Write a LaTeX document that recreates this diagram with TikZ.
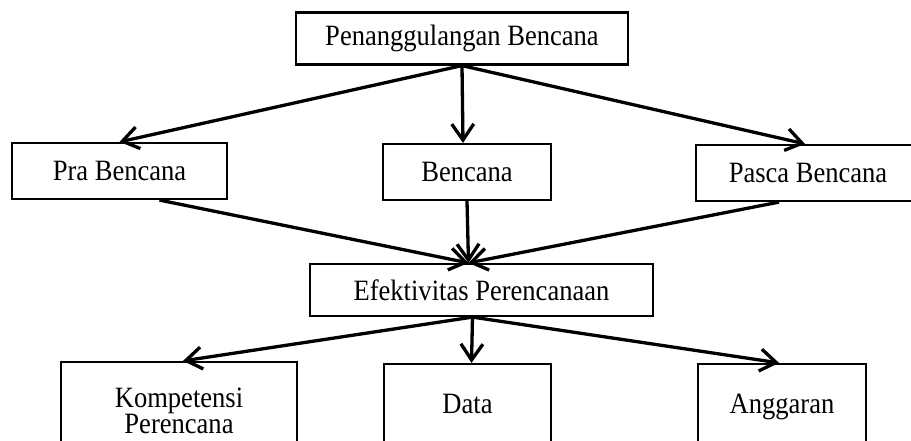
\documentclass[tikz,border=0pt]{standalone}
\usepackage{fontspec}
\setmainfont[FakeStretch=0.9]{Liberation Serif}
\usetikzlibrary{arrows.meta}

\begin{document}
\begin{tikzpicture}[x=1pt, y=-1pt, every node/.style={font=\fontsize{29.5}{25.5}\selectfont},
  box/.style={draw, line width=2.2pt, align=center, inner sep=0pt},
  arr/.style={line width=3.3pt, -{Straight Barb[length=16pt,width=22pt]}}]
\useasboundingbox (0,0) rectangle (911,441);
\clip (0,0) rectangle (911,441);

\node[box, minimum width=332pt, minimum height=52pt] (pb) at (462,38.5) {Penanggulangan Bencana};
\node[box, minimum width=215pt, minimum height=56pt] (pra) at (119.5,171) {Pra Bencana};
\node[box, minimum width=168pt, minimum height=56pt] (ben) at (467,172) {Bencana};
\node[box, minimum width=224pt, minimum height=56pt] (pasca) at (808,173) {Pasca Bencana};
\node[box, minimum width=343pt, minimum height=52pt] (efek) at (481.5,290) {Efektivitas Perencanaan};
\node[box, minimum width=236pt, minimum height=98pt] (komp) at (179,411) {Kompetensi\\Perencana};
\node[box, minimum width=167pt, minimum height=80pt] (data) at (467.5,404) {Data};
\node[box, minimum width=168pt, minimum height=86pt] (angg) at (782,407) {Anggaran};

\draw[arr] (pb.south) -- (pra.north);
\draw[arr] (pb.south) -- ([xshift=-4pt]ben.north);
\draw[arr] (pb.south) -- ([xshift=-3pt]pasca.north);
\draw[arr] ([xshift=40pt]pra.south) -- ([xshift=-13pt]efek.north);
\draw[arr] (ben.south) -- ([xshift=-13pt]efek.north);
\draw[arr] ([xshift=-29pt]pasca.south) -- ([xshift=-13pt]efek.north);
\draw[arr] ([xshift=-9pt]efek.south) -- ([xshift=4pt]komp.north);
\draw[arr] ([xshift=-9pt]efek.south) -- ([xshift=4pt]data.north);
\draw[arr] ([xshift=-9pt]efek.south) -- ([xshift=-3pt]angg.north);
\end{tikzpicture}
\end{document}
